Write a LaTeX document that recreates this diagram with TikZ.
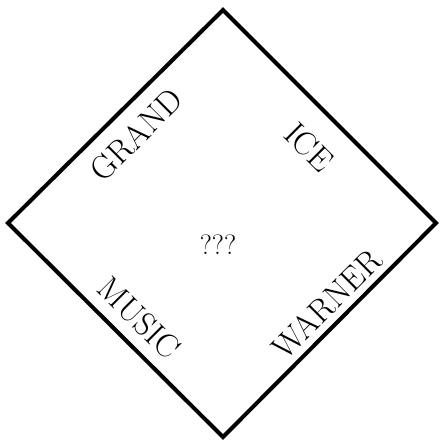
\documentclass[tikz,border=0pt]{standalone}
\usepackage{fontspec}
\setmainfont{Latin Modern Roman}
\begin{document}
\begin{tikzpicture}[x=1pt,y=-1pt,
  lbl/.style={font=\fontsize{33}{33}\selectfont, inner sep=0pt},
  qlbl/.style={font=\fontsize{28}{28}\selectfont, inner sep=0pt}]
\useasboundingbox (0,0) rectangle (440,442);
\coordinate (T) at (223,10);
\coordinate (R) at (436,223);
\coordinate (B) at (223,437);
\coordinate (L) at (8,223);
\draw[line width=4pt, line join=miter] (T) -- (R) -- (B) -- (L) -- cycle;
\node[lbl, rotate=45] (grand) at (136,135) {GRAND};
\node[lbl, rotate=-45] (ice) at (309,147) {ICE};
\node[lbl, rotate=-45] (music) at (139,318) {MUSIC};
\node[lbl, rotate=45] (warner) at (327,304) {WARNER};
\node[qlbl] (q) at (218,245) {???};
\end{tikzpicture}
\end{document}
